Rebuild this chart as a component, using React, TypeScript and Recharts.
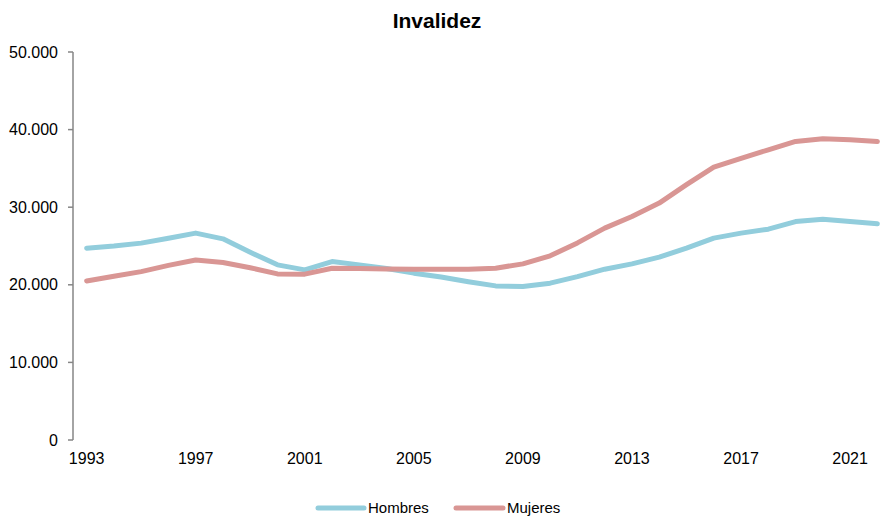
import { LineChart, Line, XAxis, YAxis } from "recharts";

const YEARS = [
  1993, 1994, 1995, 1996, 1997, 1998, 1999, 2000, 2001, 2002, 2003, 2004, 2005, 2006, 2007,
  2008, 2009, 2010, 2011, 2012, 2013, 2014, 2015, 2016, 2017, 2018, 2019, 2020, 2021, 2022,
];

const HOMBRES = [
  24720, 25000, 25370, 26000, 26660, 25920, 24200, 22570, 21920, 23000, 22570, 22100, 21500,
  21000, 20400, 19860, 19770, 20210, 21060, 22010, 22700, 23560, 24720, 26010, 26660, 27170,
  28150, 28460, 28150, 27860,
];

const MUJERES = [
  20500, 21100, 21700, 22500, 23200, 22870, 22200, 21400, 21370, 22140, 22100, 22050, 22000,
  22000, 22000, 22140, 22700, 23730, 25400, 27300, 28800, 30530, 32900, 35170, 36300, 37400,
  38470, 38820, 38700, 38470,
];

const YEAR_LABELS = [1993, 1997, 2001, 2005, 2009, 2013, 2017, 2021];
const Y_TICKS = [0, 10000, 20000, 30000, 40000, 50000];

const BLUE = "#92CDDC";
const RED = "#D99694";
const AXIS = "#868686";
const FONT = "'Liberation Sans', Arial, sans-serif";

const data = YEARS.map((year, i) => ({
  year,
  hombres: HOMBRES[i],
  mujeres: MUJERES[i],
}));

// tick marks sit between the years, labels sit on them
const boundaries = [...YEARS.map((y) => y - 0.5), YEARS[YEARS.length - 1] + 0.5];
const domain: [number, number] = [boundaries[0], boundaries[boundaries.length - 1]];

const fmt = (v: number) => String(v).replace(/\B(?=(\d{3})+(?!\d))/g, ".");

export default function App() {
  return (
    <div
      style={{
        position: "fixed",
        top: 0,
        left: 0,
        width: 883,
        height: 516,
        overflow: "hidden",
        background: "#fff",
        fontFamily: FONT,
      }}
    >
      <div
        style={{
          position: "absolute",
          top: 10,
          left: 0,
          width: 874,
          textAlign: "center",
          fontSize: 21,
          lineHeight: "21px",
          fontWeight: 700,
          color: "#000",
        }}
      >
        Invalidez
      </div>
      <LineChart
        width={891}
        height={516}
        data={data}
        margin={{ top: 52, right: 0, left: 0, bottom: 36 }}
      >
        <XAxis
          dataKey="year"
          type="number"
          domain={domain}
          ticks={boundaries}
          tick={false}
          height={0}
          tickSize={4}
          axisLine={{ stroke: AXIS, strokeWidth: 1.5 }}
          tickLine={{ stroke: AXIS, strokeWidth: 1.5 }}
        />
        <XAxis
          xAxisId="labels"
          dataKey="year"
          type="number"
          domain={domain}
          ticks={YEAR_LABELS}
          height={40}
          axisLine={false}
          tickLine={false}
          tickSize={6}
          tickMargin={7}
          interval={0}
          tick={{ fill: "#000", fontSize: 16, fontFamily: FONT }}
        />
        <YAxis
          width={73}
          domain={[0, 50000]}
          ticks={Y_TICKS}
          tickFormatter={fmt}
          tickSize={5}
          tickMargin={10}
          axisLine={{ stroke: AXIS, strokeWidth: 1.5 }}
          tickLine={{ stroke: AXIS, strokeWidth: 1.5 }}
          tick={{ fill: "#000", fontSize: 16, fontFamily: FONT }}
        />
        <Line
          dataKey="hombres"
          name="Hombres"
          type="linear"
          stroke={BLUE}
          strokeWidth={5}
          strokeLinejoin="round"
          strokeLinecap="round"
          dot={false}
          isAnimationActive={false}
        />
        <Line
          dataKey="mujeres"
          name="Mujeres"
          type="linear"
          stroke={RED}
          strokeWidth={5}
          strokeLinejoin="round"
          strokeLinecap="round"
          dot={false}
          isAnimationActive={false}
        />
      </LineChart>
      <svg
        width={883}
        height={30}
        style={{ position: "absolute", left: 0, top: 490 }}
        fontFamily={FONT}
        fontSize={15}
      >
        <line x1={318} y1={18} x2={364} y2={18} stroke={BLUE} strokeWidth={5} strokeLinecap="round" />
        <text x={368} y={23} fill="#000">
          Hombres
        </text>
        <line x1={456} y1={18} x2={503} y2={18} stroke={RED} strokeWidth={5} strokeLinecap="round" />
        <text x={507} y={23} fill="#000">
          Mujeres
        </text>
      </svg>
    </div>
  );
}
